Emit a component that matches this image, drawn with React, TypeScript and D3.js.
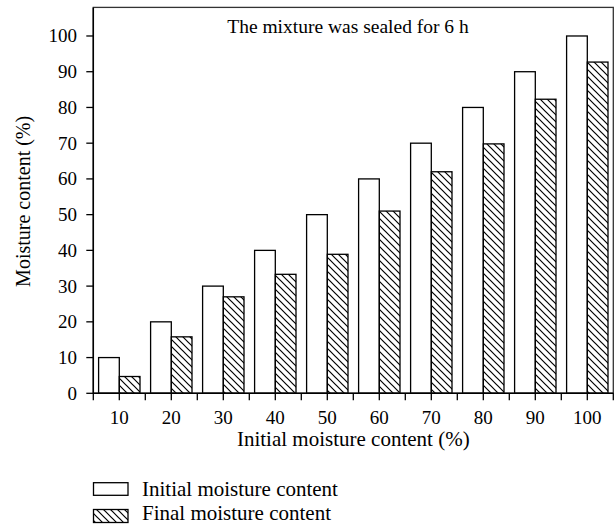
import React from "react";
import * as d3 from "d3";

const categories = ["10", "20", "30", "40", "50", "60", "70", "80", "90", "100"];
const initialValues = [10, 20, 30, 40, 50, 60, 70, 80, 90, 100];
const finalValues = [4.7, 15.8, 27, 33.3, 38.9, 51, 62, 69.8, 82.3, 92.7];
const yTicks = [0, 10, 20, 30, 40, 50, 60, 70, 80, 90, 100];
const seriesNames = ["Initial moisture content", "Final moisture content"];

const W = 616;
const H = 526;
const left = 93.3;
const right = 613.3;
const top = 7.4;
const bottom = 393.3;
const font = "'Liberation Serif', 'Times New Roman', serif";
const fsTick = 19;
const fsLabel = 21;
const fsYLabel = 20;
const fsTitle = 19.5;

export default function App() {
  const x = d3.scaleBand<string>().domain(categories).range([left, right]).padding(0);
  const sub = d3
    .scaleBand<string>()
    .domain(["initial", "final"])
    .range([0, x.bandwidth()])
    .paddingInner(0)
    .paddingOuter(0.256);
  const y = d3.scaleLinear().domain([0, 108]).range([bottom, top]);

  const boundaries = categories.map((c) => x(c)!).concat([right]);

  return (
    <svg
      width={W}
      height={H}
      style={{ position: "absolute", left: 0, top: 0, background: "#fff" }}
      fontFamily={font}
    >
      <defs>
        <pattern id="hatch" patternUnits="userSpaceOnUse" width={7} height={7}>
          <path d="M0,0 L7,7 M-1,6 L1,8 M6,-1 L8,1" stroke="#000" strokeWidth={1.2} />
        </pattern>
      </defs>
      <rect x={0} y={0} width={W} height={H} fill="#fff" />

      {/* bars */}
      {categories.map((c, i) => (
        <g key={c}>
          <rect
            x={x(c)! + sub("initial")!}
            y={y(initialValues[i])}
            width={sub.bandwidth()}
            height={y(0) - y(initialValues[i])}
            fill="#fff"
            stroke="#000"
            strokeWidth={1.3}
          />
          <rect
            x={x(c)! + sub("final")!}
            y={y(finalValues[i])}
            width={sub.bandwidth()}
            height={y(0) - y(finalValues[i])}
            fill="url(#hatch)"
            stroke="#000"
            strokeWidth={1.3}
          />
        </g>
      ))}

      {/* frame */}
      <rect x={left} y={top} width={right - left} height={bottom - top} fill="none" stroke="#333" strokeWidth={1.3} />
      <line x1={left} x2={right} y1={bottom} y2={bottom} stroke="#000" strokeWidth={1.5} />
      <line x1={left} x2={left} y1={top} y2={bottom} stroke="#000" strokeWidth={1.5} />

      {/* y ticks */}
      {yTicks.map((t) => (
        <g key={t}>
          <line x1={left - 7} x2={left} y1={y(t)} y2={y(t)} stroke="#000" strokeWidth={1.3} />
          <text x={77} y={y(t)} dy="0.34em" textAnchor="end" fontSize={fsTick}>
            {t}
          </text>
        </g>
      ))}

      {/* x ticks */}
      {boundaries.map((b, i) => (
        <line key={"b" + i} x1={b} x2={b} y1={bottom} y2={bottom + 7} stroke="#000" strokeWidth={1.3} />
      ))}
      {categories.map((c) => {
        const cx = x(c)! + x.bandwidth() / 2;
        return (
          <g key={"c" + c}>
            <line x1={cx} x2={cx} y1={bottom} y2={bottom + 7} stroke="#000" strokeWidth={1.3} />
            <text x={cx} y={424} textAnchor="middle" fontSize={fsTick}>
              {c}
            </text>
          </g>
        );
      })}

      {/* axis titles */}
      <text x={(left + right) / 2} y={446} textAnchor="middle" fontSize={fsLabel}>
        Initial moisture content (%)
      </text>
      <text
        transform={`translate(30, ${(top + bottom) / 2 + 1}) rotate(-90)`}
        textAnchor="middle"
        fontSize={fsYLabel}
      >
        Moisture content (%)
      </text>

      {/* annotation */}
      <text x={348} y={33} textAnchor="middle" fontSize={fsTitle}>
        The mixture was sealed for 6 h
      </text>

      {/* legend */}
      <rect x={93.5} y={482.7} width={34.5} height={12.6} fill="#fff" stroke="#000" strokeWidth={1.3} />
      <text x={142} y={496} fontSize={fsLabel}>
        {seriesNames[0]}
      </text>
      <rect x={93.5} y={509.5} width={34.5} height={13} fill="url(#hatch)" stroke="#000" strokeWidth={1.3} />
      <text x={142} y={520} fontSize={fsLabel}>
        {seriesNames[1]}
      </text>
    </svg>
  );
}
